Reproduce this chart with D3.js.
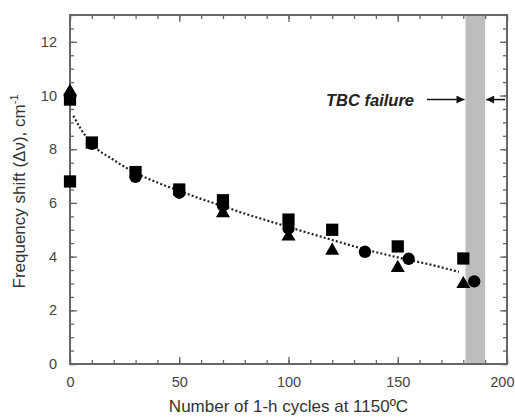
<!DOCTYPE html>
<html><head><meta charset="utf-8">
<script src="https://cdn.jsdelivr.net/npm/d3@7"></script>
<style>body{margin:0;background:#fff}svg{display:block}</style>
</head><body><svg id="c" width="515" height="417"></svg>
<script>
// Data
const squareX = [0, 0, 10, 30, 50, 70, 100, 120, 150, 180];
const squareY = [6.8, 9.85, 8.25, 7.15, 6.5, 6.1, 5.38, 5.0, 4.38, 3.93];
const circleX = [0, 10, 30, 50, 70, 100, 135, 155, 185];
const circleY = [9.95, 8.2, 6.97, 6.38, 5.9, 5.05, 4.18, 3.92, 3.08];
const triX = [0, 70, 100, 120, 150, 180];
const triY = [10.15, 5.62, 4.75, 4.22, 3.58, 2.98];
const fitX = [1.5, 5, 10, 20, 30, 40, 50, 60, 70, 80, 90, 100, 110, 120, 135, 150, 165, 178];
const fitY = [9.25, 8.75, 8.2, 7.6, 7.12, 6.76, 6.45, 6.15, 5.88, 5.6, 5.35, 5.1, 4.86, 4.62, 4.27, 3.97, 3.7, 3.43];
const failBand = [181, 190];
const xTicks = [0, 50, 100, 150, 200];
const yTicks = [0, 2, 4, 6, 8, 10, 12];
const xLabel = "Number of 1-h cycles at 1150ºC";
const annot = "TBC failure";

const svg = d3.select("#c");
const L = 70, R = 507, T = 15, B = 364;
const x = d3.scaleLinear().domain([0, 200]).range([L, R]);
const y = d3.scaleLinear().domain([0, 13]).range([B, T]);
const axisCol = "#666", font = "'Liberation Sans', Arial, sans-serif";

// failure band
svg.append("rect").attr("x", x(failBand[0])).attr("y", T)
  .attr("width", x(failBand[1]) - x(failBand[0])).attr("height", B - T)
  .attr("fill", "#bdbdbd");

// axes (ticks inward)
function styleAxis(g) {
  g.select(".domain").remove();
  g.selectAll("line").attr("stroke", axisCol).attr("stroke-width", 1.3);
  g.selectAll("text").attr("fill", "#444").style("font-family", font).style("font-size", "14.5px");
}
const xMinor = d3.range(0, 201, 10), yMinor = d3.range(0, 13.01, 0.5);
svg.append("g").attr("transform", `translate(0,${B})`)
  .call(d3.axisBottom(x).tickValues(xMinor).tickSize(-4).tickFormat("")).call(styleAxis);
const xg = svg.append("g").attr("transform", `translate(0,${B})`)
  .call(d3.axisBottom(x).tickValues(xTicks).tickSize(-7).tickPadding(13).tickFormat(d3.format("d"))).call(styleAxis);
// keep the last label inside the window
xg.selectAll("text").filter(d => d === 200).attr("text-anchor", "end").attr("dx", 7);
svg.append("g").attr("transform", `translate(0,${T})`)
  .call(d3.axisTop(x).tickValues(xMinor).tickSize(-4).tickFormat("")).call(styleAxis);
svg.append("g").attr("transform", `translate(0,${T})`)
  .call(d3.axisTop(x).tickValues(xTicks).tickSize(-7).tickFormat("")).call(styleAxis);
svg.append("g").attr("transform", `translate(${L},0)`)
  .call(d3.axisLeft(y).tickValues(yMinor).tickSize(-4).tickFormat("")).call(styleAxis);
svg.append("g").attr("transform", `translate(${L},0)`)
  .call(d3.axisLeft(y).tickValues(yTicks).tickSize(-7).tickPadding(13).tickFormat(d3.format("d"))).call(styleAxis);
svg.append("g").attr("transform", `translate(${R},0)`)
  .call(d3.axisRight(y).tickValues(yMinor).tickSize(-4).tickFormat("")).call(styleAxis);
svg.append("g").attr("transform", `translate(${R},0)`)
  .call(d3.axisRight(y).tickValues(yTicks).tickSize(-7).tickFormat("")).call(styleAxis);

svg.append("rect").attr("x", L).attr("y", T).attr("width", R - L).attr("height", B - T)
  .attr("fill", "none").attr("stroke", axisCol).attr("stroke-width", 2);

// fit curve
const fit = fitX.map((v, i) => [v, fitY[i]]);
svg.append("path").datum(fit)
  .attr("d", d3.line().x(d => x(d[0])).y(d => y(d[1])).curve(d3.curveMonotoneX))
  .attr("fill", "none").attr("stroke", "#222").attr("stroke-width", 2.2)
  .attr("stroke-dasharray", "2,2.2");

// markers
const sq = squareX.map((v, i) => [v, squareY[i]]);
const ci = circleX.map((v, i) => [v, circleY[i]]);
const tr = triX.map((v, i) => [v, triY[i]]);
const sym = (t, s) => d3.symbol().type(t).size(s)();
svg.append("g").selectAll("path").data(ci).join("path")
  .attr("transform", d => `translate(${x(d[0])},${y(d[1])})`).attr("d", sym(d3.symbolCircle, 120)).attr("fill", "#000");
svg.append("g").selectAll("path").data(tr).join("path")
  .attr("transform", d => `translate(${x(d[0])},${y(d[1])})`).attr("d", sym(d3.symbolTriangle, 85)).attr("fill", "#000");
svg.append("g").selectAll("path").data(sq).join("path")
  .attr("transform", d => `translate(${x(d[0])},${y(d[1])})`).attr("d", sym(d3.symbolSquare, 150)).attr("fill", "#000");

// annotation
const ay = y(9.85);
svg.append("text").attr("x", 414).attr("y", ay + 6).attr("text-anchor", "end")
  .style("font-family", font).style("font-size", "16.5px").style("font-weight", "bold").style("font-style", "italic")
  .attr("fill", "#222").text(annot);
const defs = svg.append("defs");
defs.append("marker").attr("id", "ah").attr("viewBox", "0 0 10 10").attr("refX", 10).attr("refY", 5)
  .attr("markerWidth", 11).attr("markerHeight", 8).attr("markerUnits", "userSpaceOnUse").attr("orient", "auto")
  .append("path").attr("d", "M0,0L10,5L0,10Z").attr("fill", "#111");
svg.append("line").attr("x1", 427).attr("x2", x(failBand[0]) - 1).attr("y1", ay).attr("y2", ay)
  .attr("stroke", "#111").attr("stroke-width", 1.5).attr("marker-end", "url(#ah)");
svg.append("line").attr("x1", R - 2).attr("x2", x(failBand[1]) + 1).attr("y1", ay).attr("y2", ay)
  .attr("stroke", "#111").attr("stroke-width", 1.5).attr("marker-end", "url(#ah)");

// axis titles
svg.append("text").attr("x", (L + R) / 2).attr("y", 412).attr("text-anchor", "middle")
  .style("font-family", font).style("font-size", "17px").attr("fill", "#333").text(xLabel);
const yt = svg.append("text").attr("transform", `translate(25,${(T + B) / 2 + 2}) rotate(-90)`)
  .attr("text-anchor", "middle").style("font-family", font).style("font-size", "17px").attr("fill", "#333");
yt.append("tspan").text("Frequency shift (Δν), cm");
yt.append("tspan").attr("dy", -7).style("font-size", "11px").text("-1");
</script></body></html>
